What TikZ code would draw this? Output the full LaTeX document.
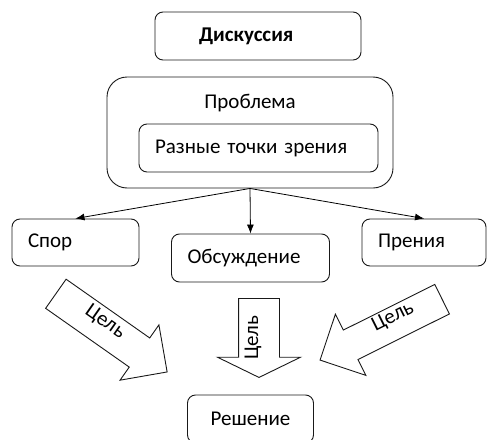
\documentclass[tikz,border=0pt]{standalone}
\usepackage{fontspec}
\setmainfont{Carlito}
\usetikzlibrary{shapes.arrows,arrows.meta}

\begin{document}
\begin{tikzpicture}[x=1pt,y=-1pt]
\tikzstyle{box}=[rectangle, rounded corners=8pt, draw=black!90, line width=0.9pt, font=\fontsize{21}{25}\selectfont, inner sep=0pt]
\tikzstyle{inset}=[align=left, inner xsep=16pt]
\tikzstyle{connect}=[-{Latex[length=9pt,width=7pt]}, line width=0.8pt]
\tikzstyle{goal}=[single arrow, draw=black!90, line width=0.9pt, inner xsep=0pt, single arrow tip angle=90, anchor=tail]
\tikzstyle{goaltext}=[font=\fontsize{21}{25}\selectfont, inner sep=0pt]
  \useasboundingbox (0,0) rectangle (487,439);
  \node[box, inset, inner xsep=44pt, text width=118pt, minimum height=48pt, font=\fontsize{21}{25}\selectfont\bfseries] (disc) at (258,36) {Дискуссия};
  \node[box, rounded corners=20pt, minimum width=286pt, minimum height=111pt] (prob) at (250,132.5) {};
  \node[goaltext] (probtxt) at (250,103) {Проблема};
  \node[box, inset, text width=207pt, minimum height=48pt] (view) at (258.5,148) {Разные точки зрения};
  \node[box, inset, text width=95pt, minimum height=47pt] (spor) at (75.5,242.5) {Спор};
  \node[box, inset, text width=126pt, minimum height=48pt] (obsu) at (250.5,258) {Обсуждение};
  \node[box, inset, text width=92pt, minimum height=47pt] (pren) at (424,242.5) {Прения};
  \node[box, minimum width=126pt, minimum height=48pt] (resh) at (250.5,419) {Решение};
  \draw[connect] (prob.south) -- (spor.north);
  \draw[connect] (prob.south) -- (obsu.north);
  \draw[connect] (prob.south) -- (pren.north);
  \node[goal, rotate=-35.1, minimum height=136pt, inner ysep=17.35pt, single arrow head extend=16pt] (goalL) at (55.5,293.5) {};
  \node[goal, rotate=-90, minimum height=79pt, inner ysep=20pt, single arrow head extend=21pt, single arrow tip angle=128] (goalM) at (259,298) {};
  \node[goal, rotate=206.5, minimum height=136.4pt, inner ysep=16pt, single arrow head extend=17.75pt] (goalR) at (442.5,299) {};
  \node[goaltext, rotate=-35] (goalLtxt) at (105,322) {Цель};
  \node[goaltext, rotate=90] (goalMtxt) at (253,338) {Цель};
  \node[goaltext, rotate=26.5] (goalRtxt) at (393,317) {Цель};
\end{tikzpicture}
\end{document}
